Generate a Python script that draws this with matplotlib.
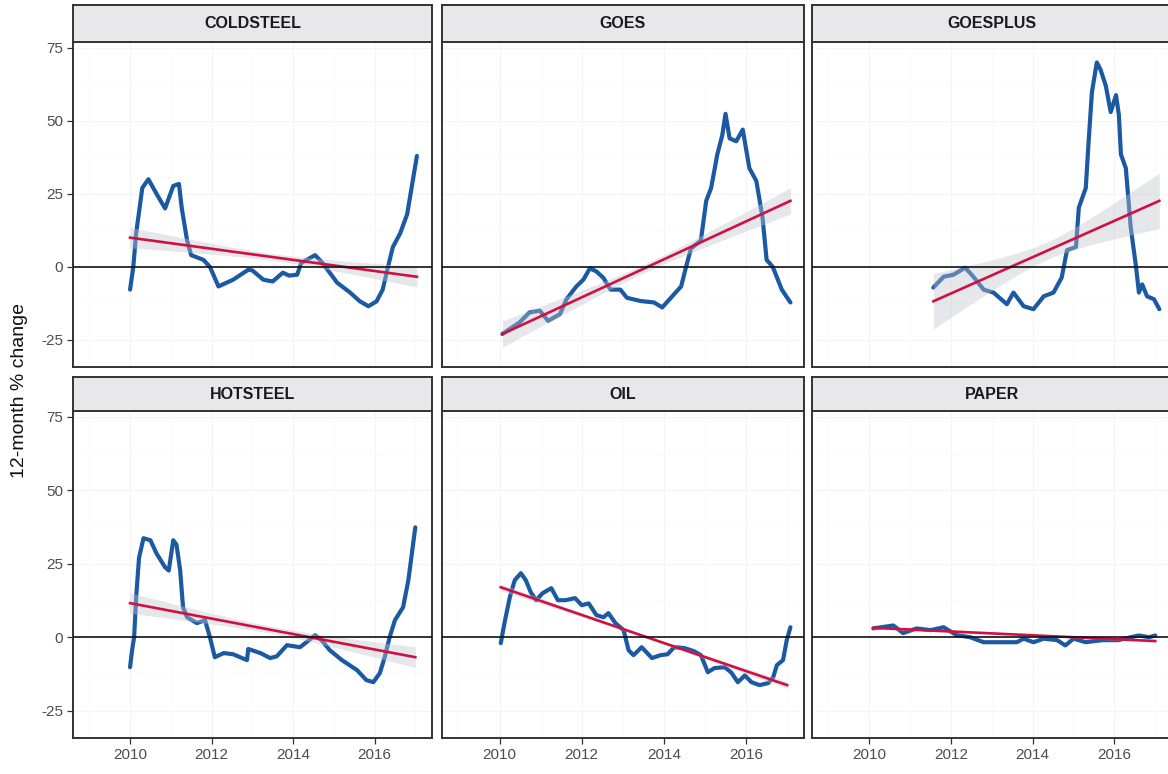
import numpy as np
import matplotlib
matplotlib.use("Agg")
import matplotlib.pyplot as plt

plt.rcParams['font.family'] = ['Liberation Sans', 'DejaVu Sans']

panels = ["COLDSTEEL", "GOES", "GOESPLUS", "HOTSTEEL", "OIL", "PAPER"]

coldsteel_t = [2010.0, 2010.08, 2010.15, 2010.3, 2010.45, 2010.65, 2010.86, 2011.06, 2011.2, 2011.27,
               2011.4, 2011.5, 2011.8, 2011.96, 2012.17, 2012.53, 2012.9, 2013.0, 2013.27, 2013.5,
               2013.75, 2013.9, 2014.1, 2014.2, 2014.54, 2014.7, 2014.9, 2015.08, 2015.4, 2015.64,
               2015.85, 2016.05, 2016.2, 2016.33, 2016.45, 2016.63, 2016.8, 2016.92, 2017.04]
coldsteel_v = [-7.8, 0.0, 11.5, 27.0, 30.0, 25.0, 20.0, 27.7, 28.4, 20.0,
               9.0, 4.0, 2.4, 0.0, -6.7, -4.4, -1.0, -1.2, -4.4, -5.0,
               -2.0, -3.0, -2.7, 1.3, 4.0, 1.7, -2.0, -5.4, -8.8, -11.8,
               -13.5, -11.8, -7.8, 0.0, 6.8, 11.5, 18.0, 28.0, 38.0]

goes_t = [2010.07, 2010.49, 2010.73, 2010.98, 2011.18, 2011.47, 2011.63, 2011.87, 2012.04, 2012.2,
          2012.36, 2012.53, 2012.7, 2012.94, 2013.1, 2013.43, 2013.76, 2013.96, 2014.17, 2014.42,
          2014.54, 2014.66, 2014.9, 2015.03, 2015.15, 2015.3, 2015.42, 2015.5, 2015.6, 2015.76,
          2015.92, 2016.08, 2016.25, 2016.4, 2016.5, 2016.65, 2016.87, 2017.08]
goes_v = [-23.0, -19.0, -15.6, -15.0, -18.5, -16.2, -11.1, -6.7, -4.4, -0.5,
          -1.6, -3.8, -7.8, -7.8, -10.6, -11.7, -12.2, -13.9, -10.6, -6.7,
          0.0, 6.3, 9.0, 22.6, 27.0, 38.5, 45.0, 52.4, 44.0, 43.0,
          47.0, 33.8, 29.4, 17.0, 2.4, 0.0, -7.8, -12.2]

goesplus_t = [2011.57, 2011.82, 2012.06, 2012.35, 2012.55, 2012.8, 2013.04, 2013.37, 2013.53, 2013.78,
              2014.02, 2014.27, 2014.51, 2014.71, 2014.84, 2015.06, 2015.13, 2015.3, 2015.37, 2015.45,
              2015.57, 2015.66, 2015.79, 2015.91, 2016.04, 2016.11, 2016.16, 2016.28, 2016.4, 2016.53,
              2016.6, 2016.68, 2016.8, 2016.97, 2017.1]
goesplus_v = [-7.1, -3.4, -2.7, -0.3, -3.4, -7.8, -8.8, -12.8, -8.8, -13.5,
              -14.5, -10.1, -8.8, -3.7, 5.7, 6.8, 20.3, 27.0, 43.0, 59.8,
              70.0, 67.6, 62.0, 53.0, 58.8, 52.0, 38.5, 33.8, 13.5, 0.0,
              -8.8, -6.0, -10.1, -11.1, -14.5]

hotsteel_t = [2010.0, 2010.05, 2010.1, 2010.15, 2010.22, 2010.33, 2010.5, 2010.65, 2010.86, 2010.95,
              2011.06, 2011.14, 2011.23, 2011.3, 2011.4, 2011.64, 2011.84, 2011.96, 2012.08, 2012.3,
              2012.53, 2012.87, 2012.9, 2013.2, 2013.44, 2013.6, 2013.85, 2014.17, 2014.33, 2014.54,
              2014.7, 2014.9, 2015.2, 2015.57, 2015.8, 2015.97, 2016.13, 2016.25, 2016.37, 2016.5,
              2016.7, 2016.83, 2017.0]
hotsteel_v = [-10.2, -4.4, 0.0, 13.6, 27.0, 33.7, 33.0, 28.5, 23.8, 22.7,
              33.0, 31.5, 22.8, 10.2, 6.8, 4.8, 5.8, 0.0, -6.8, -5.4,
              -5.8, -7.8, -4.0, -5.4, -7.1, -6.5, -2.7, -3.4, -1.7, 0.7,
              -1.0, -4.4, -7.8, -11.2, -14.6, -15.3, -12.2, -6.8, 0.0, 5.8,
              10.2, 19.4, 37.4]

oil_t = [2010.03, 2010.12, 2010.25, 2010.37, 2010.52, 2010.64, 2010.76, 2010.89, 2011.05, 2011.26,
         2011.42, 2011.6, 2011.84, 2012.0, 2012.17, 2012.36, 2012.53, 2012.65, 2012.82, 2013.02,
         2013.14, 2013.26, 2013.46, 2013.71, 2013.92, 2014.09, 2014.25, 2014.5, 2014.74, 2014.9,
         2015.07, 2015.23, 2015.48, 2015.64, 2015.8, 2015.97, 2016.13, 2016.33, 2016.54, 2016.66,
         2016.75, 2016.9, 2016.99, 2017.08]
oil_v = [-2.0, 4.8, 13.6, 19.4, 21.8, 19.4, 15.3, 12.6, 15.0, 16.7,
         12.6, 12.6, 13.3, 10.9, 11.5, 7.5, 6.8, 8.2, 4.8, 2.4,
         -4.4, -6.1, -3.4, -7.1, -6.1, -5.8, -3.4, -3.7, -4.8, -6.1,
         -11.9, -10.5, -10.2, -12.0, -15.3, -13.0, -15.3, -16.3, -15.6, -13.6,
         -9.5, -7.8, -1.0, 3.4]

paper_t = [2010.1, 2010.59, 2010.83, 2011.16, 2011.5, 2011.82, 2012.14, 2012.47, 2012.8, 2013.29,
           2013.61, 2013.78, 2014.02, 2014.27, 2014.6, 2014.8, 2015.0, 2015.3, 2015.7, 2016.1,
           2016.4, 2016.6, 2016.85, 2017.0]
paper_v = [3.0, 4.0, 1.4, 3.0, 2.4, 3.4, 0.7, 0.0, -1.7, -1.7,
           -1.7, -0.5, -1.7, -0.5, -1.0, -2.8, -0.5, -1.7, -1.0, -1.0,
           0.0, 0.6, 0.0, 0.6]

series_t = [coldsteel_t, goes_t, goesplus_t, hotsteel_t, oil_t, paper_t]
series_v = [coldsteel_v, goes_v, goesplus_v, hotsteel_v, oil_v, paper_v]

# linear trend (geom_smooth lm): start/end x and y
fit_x0 = [2010.0, 2010.07, 2011.57, 2010.0, 2010.03, 2010.1]
fit_y0 = [10.0, -23.0, -11.8, 11.6, 17.0, 3.2]
fit_x1 = [2017.04, 2017.08, 2017.1, 2017.0, 2017.0, 2017.0]
fit_y1 = [-3.4, 22.6, 22.6, -6.8, -16.3, -1.3]
band_end = [3.5, 4.5, 9.5, 3.5, 1.2, 0.5]
band_mid = [1.2, 1.5, 3.0, 1.2, 0.5, 0.2]

y_ticks = [-25, 0, 25, 50, 75]
x_ticks = [2010, 2012, 2014, 2016]
x_tick_labels = ["2010", "2012", "2014", "2016"]
y_label = "12-month % change"

W, H = 1168, 774
fig = plt.figure(figsize=(W / 100, H / 100), dpi=100)

col_px = [(73, 432), (442, 804), (812, 1172)]
row_px = [((5, 42), (42, 367)), ((377, 411), (411, 738))]

BLUE = "#1b5aa3"
RED = "#d01040"
BORDER = "#333333"

for i, name in enumerate(panels):
    r, c = divmod(i, 3)
    x0, x1 = col_px[c]
    (s0, s1), (p0, p1) = row_px[r]
    ax = fig.add_axes([x0 / W, 1 - p1 / H, (x1 - x0) / W, (p1 - p0) / H])
    sax = fig.add_axes([x0 / W, 1 - s1 / H, (x1 - x0) / W, (s1 - s0) / H])
    sax.set_facecolor("#e8e8ea")
    sax.set_xticks([]); sax.set_yticks([])
    for sp in sax.spines.values():
        sp.set_color(BORDER); sp.set_linewidth(1.4)
    sax.text(0.5, 0.5, name, ha="center", va="center", fontsize=11.5,
             fontweight="bold", color="#1a1a1a", transform=sax.transAxes)

    ax.set_xlim(2008.6, 2017.41)
    ax.set_ylim(-34.3, 77.0)
    ax.set_xticks(x_ticks)
    ax.set_yticks(y_ticks)
    ax.set_xticks(np.arange(2009, 2018, 2), minor=True)
    ax.set_yticks([-12.5, 12.5, 37.5, 62.5], minor=True)
    ax.grid(True, which="major", color="#f4f4f4", lw=0.8)
    ax.grid(True, which="minor", color="#f8f8f8", lw=0.5)
    ax.set_axisbelow(True)
    for sp in ax.spines.values():
        sp.set_color(BORDER); sp.set_linewidth(1.4)
    ax.tick_params(which="minor", length=0)
    ax.tick_params(which="major", length=4, width=0.9, color="#333333",
                   labelsize=11, labelcolor="#4d4d4d", pad=3)
    if c == 0:
        ax.set_yticklabels([str(v) for v in y_ticks])
    else:
        ax.tick_params(axis="y", which="major", length=0, labelleft=False)
    if r == 1:
        ax.set_xticklabels(x_tick_labels)
    else:
        ax.tick_params(axis="x", which="major", length=0, labelbottom=False)

    t = np.array(series_t[i]); v = np.array(series_v[i])
    ax.plot(t, v, color=BLUE, lw=3.0, solid_joinstyle="round", solid_capstyle="round", zorder=2)

    fx = np.linspace(fit_x0[i], fit_x1[i], 60)
    fy = fit_y0[i] + (fit_y1[i] - fit_y0[i]) * (fx - fit_x0[i]) / (fit_x1[i] - fit_x0[i])
    u = (fx - (fit_x0[i] + fit_x1[i]) / 2) / ((fit_x1[i] - fit_x0[i]) / 2)
    hw = np.sqrt(band_mid[i] ** 2 + (band_end[i] ** 2 - band_mid[i] ** 2) * u ** 2)
    ax.fill_between(fx, fy - hw, fy + hw, color="#bfc3cd", alpha=0.4, lw=0, zorder=3)
    ax.plot(fx, fy, color=RED, lw=1.9, zorder=4)
    ax.axhline(0, color="#111111", lw=1.2, zorder=5)

fig.text(20 / W, 1 - 390 / H, y_label, rotation=90, ha="center", va="center",
         fontsize=14, color="#111111")

fig.savefig("out.png", dpi=100)
